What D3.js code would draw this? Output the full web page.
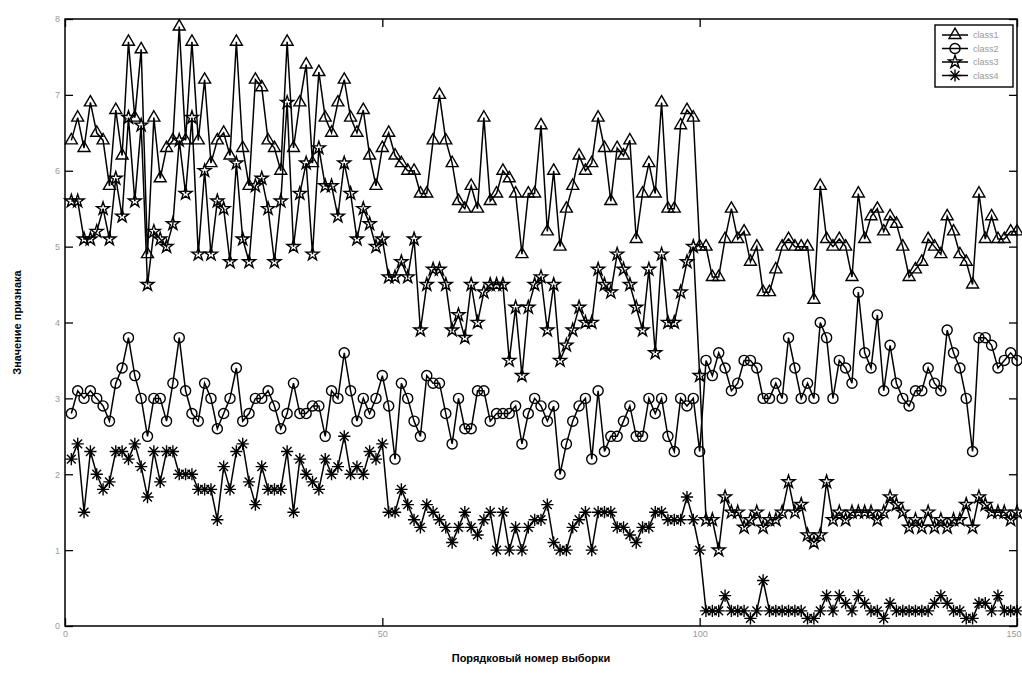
<!DOCTYPE html>
<html>
<head>
<meta charset="utf-8">
<script src="https://d3js.org/d3.v7.min.js"></script>
<style>
  body { margin: 0; background: #fff; }
  text { font-family: "Liberation Sans", Arial, sans-serif; }
</style>
</head>
<body>
<script>
// sample index 1..150
const samples = d3.range(1, 151)

const class1 = [
  6.4,6.7,6.3,6.9,6.5,6.4,5.8,6.8,6.2,7.7, 6.7,7.6,4.9,6.7,5.9,6.3,6.4,7.9,6.4,7.7,
  6.4,7.2,6.1,6.4,6.5,6.2,7.7,6.3,5.8,7.2, 7.1,6.4,6.3,6.0,7.7,6.3,6.9,7.4,6.1,7.3,
  6.7,6.5,6.9,7.2,6.7,6.5,6.8,6.2,5.8,6.3,
  6.5,6.2,6.1,6.0,6.0,5.7,5.7,6.4,7.0,6.4, 6.1,5.6,5.5,5.8,5.5,6.7,5.6,5.7,6.0,5.9,
  5.7,4.9,5.7,5.7,6.6,5.2,6.0,5.0,5.5,5.8, 6.2,6.0,6.1,6.7,6.3,5.6,6.3,6.2,6.4,5.1,
  5.7,6.1,5.7,6.9,5.5,5.5,6.6,6.8,6.7,5.0,
  5.0,4.6,4.6,5.1,5.5,5.1,5.2,4.8,5.0,4.4, 4.4,4.7,5.0,5.1,5.0,5.0,5.0,4.3,5.8,5.1,
  5.0,5.1,5.0,4.6,5.7,5.1,5.4,5.5,5.2,5.4, 5.3,5.0,4.6,4.7,4.8,5.1,5.0,4.9,5.4,5.2,
  4.9,4.8,4.5,5.7,5.1,5.4,5.1,5.1,5.2,5.2
]
const class2 = [
  2.8,3.1,3.0,3.1,3.0,2.9,2.7,3.2,3.4,3.8, 3.3,3.0,2.5,3.0,3.0,2.7,3.2,3.8,3.1,2.8,
  2.7,3.2,3.0,2.6,2.8,3.0,3.4,2.7,2.8,3.0, 3.0,3.1,2.9,2.6,2.8,3.2,2.8,2.8,2.9,2.9,
  2.5,3.1,3.0,3.6,3.1,2.7,3.0,2.8,3.0,3.3,
  2.9,2.2,3.2,3.0,2.7,2.5,3.3,3.2,3.2,2.8, 2.4,3.0,2.6,2.6,3.1,3.1,2.7,2.8,2.8,2.8,
  2.9,2.4,2.8,3.0,2.9,2.7,2.9,2.0,2.4,2.7, 2.9,3.0,2.2,3.1,2.3,2.5,2.5,2.7,2.9,2.5,
  2.5,3.0,2.8,3.0,2.5,2.3,3.0,2.9,3.0,2.3,
  3.5,3.3,3.6,3.4,3.1,3.2,3.5,3.5,3.4,3.0, 3.0,3.2,3.0,3.8,3.4,3.0,3.2,3.0,4.0,3.8,
  3.0,3.5,3.4,3.2,4.4,3.6,3.4,4.1,3.1,3.7, 3.2,3.0,2.9,3.1,3.1,3.4,3.2,3.1,3.9,3.6,
  3.4,3.0,2.3,3.8,3.8,3.7,3.4,3.5,3.6,3.5
]
const class3 = [
  5.6,5.6,5.1,5.1,5.2,5.5,5.1,5.9,5.4,6.7, 5.6,6.6,4.5,5.2,5.1,5.0,5.3,6.4,5.7,6.7,
  4.9,6.0,4.9,5.6,5.5,4.8,6.1,5.1,4.8,5.8, 5.9,5.5,4.8,5.6,6.9,5.0,5.7,6.1,4.9,6.3,
  5.8,5.8,5.4,6.1,5.7,5.1,5.5,5.3,5.0,5.1,
  4.6,4.6,4.8,4.6,5.1,3.9,4.5,4.7,4.7,4.5, 3.9,4.1,3.8,4.5,4.0,4.4,4.5,4.5,4.5,3.5,
  4.2,3.3,4.2,4.5,4.6,3.9,4.5,3.5,3.7,3.9, 4.2,4.0,4.0,4.7,4.5,4.4,4.9,4.7,4.5,4.2,
  3.9,4.7,3.6,4.9,4.0,4.0,4.4,4.8,5.0,3.3,
  1.4,1.4,1.0,1.7,1.5,1.5,1.3,1.4,1.5,1.3, 1.4,1.4,1.5,1.9,1.5,1.6,1.2,1.1,1.2,1.9,
  1.4,1.5,1.4,1.5,1.5,1.5,1.5,1.4,1.5,1.7, 1.6,1.5,1.3,1.4,1.3,1.5,1.3,1.4,1.3,1.4,
  1.4,1.6,1.3,1.7,1.6,1.5,1.5,1.5,1.4,1.5
]
const class4 = [
  2.2,2.4,1.5,2.3,2.0,1.8,1.9,2.3,2.3,2.2, 2.4,2.1,1.7,2.3,1.9,2.3,2.3,2.0,2.0,2.0,
  1.8,1.8,1.8,1.4,2.1,1.8,2.3,2.4,1.9,1.6, 2.1,1.8,1.8,1.8,2.3,1.5,2.2,2.0,1.9,1.8,
  2.2,2.0,2.1,2.5,2.0,2.1,2.0,2.3,2.2,2.4,
  1.5,1.5,1.8,1.6,1.4,1.3,1.6,1.5,1.4,1.3, 1.1,1.3,1.5,1.3,1.2,1.4,1.5,1.0,1.5,1.0,
  1.3,1.0,1.3,1.4,1.4,1.6,1.1,1.0,1.0,1.3, 1.4,1.5,1.0,1.5,1.5,1.5,1.3,1.3,1.2,1.1,
  1.3,1.3,1.5,1.5,1.4,1.4,1.4,1.7,1.4,1.0,
  0.2,0.2,0.2,0.4,0.2,0.2,0.2,0.1,0.2,0.6, 0.2,0.2,0.2,0.2,0.2,0.2,0.1,0.1,0.2,0.4,
  0.2,0.4,0.3,0.2,0.4,0.3,0.2,0.2,0.1,0.3, 0.2,0.2,0.2,0.2,0.2,0.2,0.3,0.4,0.3,0.2,
  0.2,0.1,0.1,0.3,0.3,0.2,0.4,0.2,0.2,0.2
]

const seriesNames = ['class1', 'class2', 'class3', 'class4']
const xTicks = [0, 50, 100, 150]
const yTicks = [0, 1, 2, 3, 4, 5, 6, 7, 8]

const width = 1022
const height = 673
const margin = {top: 19, right: 5, bottom: 47, left: 65}
const w = width - margin.left - margin.right
const h = height - margin.top - margin.bottom

const svg = d3.select('body').append('svg')
  .attr('width', width)
  .attr('height', height)

const chart = svg.append('g')
  .attr('transform', `translate(${margin.left},${margin.top})`)

const xScale = d3.scaleLinear().domain([0, 150]).range([0, w])
const yScale = d3.scaleLinear().domain([0, 8]).range([h, 0])

// markers like matlab: ^ o p *
const asterisk = {
  draw(ctx, size) {
    const r = Math.sqrt(size) / 2
    const d = r * 0.72
    ctx.moveTo(0, -r); ctx.lineTo(0, r)
    ctx.moveTo(-r, 0); ctx.lineTo(r, 0)
    ctx.moveTo(-d, -d); ctx.lineTo(d, d)
    ctx.moveTo(-d, d); ctx.lineTo(d, -d)
  }
}
const symbols = [
  d3.symbol(d3.symbolTriangle, 62),
  d3.symbol(d3.symbolCircle, 80),
  d3.symbol(d3.symbolStar, 52),
  d3.symbol(asterisk, 150)
]

const allSeries = [class1, class2, class3, class4]

const line = d3.line()
  .x((d, i) => xScale(samples[i]))
  .y(d => yScale(d))

allSeries.forEach((values, k) => {
  const g = chart.append('g').attr('class', 'series-' + k)
  g.append('path')
    .datum(values)
    .attr('d', line)
    .attr('fill', 'none')
    .attr('stroke', '#000')
    .attr('stroke-width', 1.5)
  g.selectAll('path.mark')
    .data(values)
    .enter()
    .append('path')
    .attr('class', 'mark')
    .attr('transform', (d, i) => `translate(${xScale(samples[i])},${yScale(d)})`)
    .attr('d', symbols[k])
    .attr('fill', 'none')
    .attr('stroke', '#000')
    .attr('stroke-width', 1.4)
})

// axes with inward ticks on all four sides
const tickLen = 8
const xAxis = d3.axisBottom(xScale).tickValues(xTicks).tickSizeInner(-tickLen).tickSizeOuter(0).tickPadding(5)
const yAxis = d3.axisLeft(yScale).tickValues(yTicks).tickSizeInner(-tickLen).tickSizeOuter(0).tickPadding(5)
const xAxisTop = d3.axisTop(xScale).tickValues(xTicks).tickSizeInner(-tickLen).tickSizeOuter(0).tickFormat('')
const yAxisRight = d3.axisRight(yScale).tickValues(yTicks).tickSizeInner(-tickLen).tickSizeOuter(0).tickFormat('')

const axes = [
  chart.append('g').attr('transform', `translate(0,${h})`).call(xAxis),
  chart.append('g').call(yAxis),
  chart.append('g').call(xAxisTop),
  chart.append('g').attr('transform', `translate(${w},0)`).call(yAxisRight)
]
axes.forEach(a => {
  a.select('.domain').remove()
  a.selectAll('line').attr('stroke', '#000').attr('stroke-width', 1.3)
  a.selectAll('text').attr('fill', '#999').attr('font-size', 9)
})
// last x label would run off the page edge
axes[0].selectAll('.tick text').filter(d => d === 150).attr('text-anchor', 'end').attr('dx', 4)

chart.append('rect')
  .attr('width', w)
  .attr('height', h)
  .attr('fill', 'none')
  .attr('stroke', '#000')
  .attr('stroke-width', 1.5)

// legend
const legend = chart.append('g')
  .attr('transform', `translate(${w - 82},6)`)
legend.append('rect')
  .attr('width', 78)
  .attr('height', 62)
  .attr('fill', '#fff')
  .attr('stroke', '#000')
  .attr('stroke-width', 1.4)
seriesNames.forEach((name, k) => {
  const yy = 10 + k * 13.5
  legend.append('line')
    .attr('x1', 7).attr('x2', 33)
    .attr('y1', yy).attr('y2', yy)
    .attr('stroke', '#000').attr('stroke-width', 1.5)
  legend.append('path')
    .attr('transform', `translate(20,${yy})`)
    .attr('d', symbols[k])
    .attr('fill', 'none')
    .attr('stroke', '#000')
    .attr('stroke-width', 1.4)
  legend.append('text')
    .attr('x', 38)
    .attr('y', yy + 3)
    .attr('font-size', 9)
    .attr('fill', '#999')
    .text(name)
})

// axis titles
svg.append('text')
  .attr('x', margin.left + w / 2 - 10)
  .attr('y', 662)
  .attr('text-anchor', 'middle')
  .attr('font-size', 11)
  .attr('font-weight', 'bold')
  .text('Порядковый номер выборки')

svg.append('text')
  .attr('transform', `translate(21,${margin.top + h / 2}) rotate(-90)`)
  .attr('text-anchor', 'middle')
  .attr('font-size', 11)
  .attr('font-weight', 'bold')
  .text('Значение признака')
</script>
</body>
</html>
